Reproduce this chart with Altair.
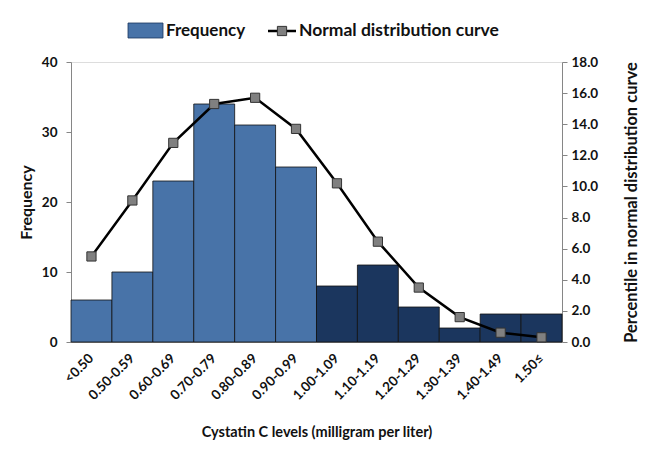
import altair as alt
import pandas as pd

categories = ["<0.50", "0.50-0.59", "0.60-0.69", "0.70-0.79", "0.80-0.89", "0.90-0.99",
              "1.00-1.09", "1.10-1.19", "1.20-1.29", "1.30-1.39", "1.40-1.49", "1.50≤"]
frequency = [6, 10, 23, 34, 31, 25, 8, 11, 5, 2, 4, 4]
normal_curve = [5.5, 9.1, 12.8, 15.3, 15.7, 13.7, 10.2, 6.45, 3.5, 1.6, 0.6, 0.3]
group = ["low"] * 6 + ["high"] * 6

df = pd.DataFrame({"cat": categories, "freq": frequency, "curve": normal_curve, "group": group})

FONT = "Lato"
LIGHT = "#4873A8"
DARK = "#1B365E"
AXIS_GRAY = "#868686"

x_enc = alt.X("cat:N", sort=categories, title="Cystatin C levels (milligram per liter)",
              scale=alt.Scale(paddingInner=0, paddingOuter=0),
              axis=alt.Axis(labelAngle=-45, labelAlign="right", labelBaseline="middle",
                            labelFont=FONT, labelFontSize=13.5, labelFontWeight="bold",
                            labelColor="#111", ticks=False, labelPadding=14,
                            domainColor=AXIS_GRAY, titleFont=FONT, titleFontSize=14.5,
                            titleFontWeight="bold", titlePadding=24, titleColor="#111"))

bars = alt.Chart(df).mark_bar(stroke="#111", strokeWidth=0.8).encode(
    x=x_enc,
    y=alt.Y("freq:Q", title="Frequency", scale=alt.Scale(domain=[0, 40]),
            axis=alt.Axis(values=[0, 10, 20, 30, 40], grid=False, orient="left",
                          domainColor=AXIS_GRAY, tickColor=AXIS_GRAY, tickSize=5,
                          labelFont=FONT, labelFontSize=13.5, labelFontWeight="bold",
                          labelColor="#111", labelPadding=9,
                          titleFont=FONT, titleFontSize=16, titleFontWeight="bold",
                          titleColor="#111", titlePadding=7)),
    color=alt.Color("group:N", scale=alt.Scale(domain=["low", "high"], range=[LIGHT, DARK]),
                    legend=None),
)

line = alt.Chart(df).mark_line(
    color="black", strokeWidth=2.5,
    point=alt.OverlayMarkDef(shape="square", filled=True, size=85, fill="#808080",
                             stroke="#333", strokeWidth=1, opacity=1),
).encode(
    x=alt.X("cat:N", sort=categories),
    y=alt.Y("curve:Q", title="Percentile in normal distribution curve",
            scale=alt.Scale(domain=[0, 18]),
            axis=alt.Axis(values=[0, 2, 4, 6, 8, 10, 12, 14, 16, 18], format=".1f", grid=False,
                          orient="right", domainColor=AXIS_GRAY, tickColor=AXIS_GRAY, tickSize=5,
                          labelFont=FONT, labelFontSize=13.5, labelFontWeight="bold",
                          labelColor="#111", labelPadding=4,
                          titleFont=FONT, titleFontSize=16.5, titleFontWeight="bold",
                          titleColor="#111", titleAngle=270, titleBaseline="bottom",
                          titlePadding=42)),
)

legend_df = pd.DataFrame({"a": [0]})
leg_rect = alt.Chart(legend_df).mark_rect(fill=LIGHT, stroke="#1B365E", strokeWidth=0.8).encode(
    x=alt.value(57), x2=alt.value(92), y=alt.value(-39), y2=alt.value(-24))
leg_text1 = alt.Chart(legend_df).mark_text(text="Frequency", font=FONT, fontSize=17,
                                           fontWeight="bold", align="left", baseline="middle",
                                           color="#111").encode(x=alt.value(95), y=alt.value(-31))
leg_line = alt.Chart(legend_df).mark_rule(color="black", strokeWidth=2.5).encode(
    x=alt.value(197), x2=alt.value(225), y=alt.value(-31))
leg_pt = alt.Chart(legend_df).mark_point(shape="square", filled=True, size=85, fill="#808080",
                                         stroke="#333", strokeWidth=1, opacity=1).encode(
    x=alt.value(211), y=alt.value(-31))
leg_text2 = alt.Chart(legend_df).mark_text(text="Normal distribution curve", font=FONT,
                                           fontSize=17.5, fontWeight="bold", align="left",
                                           baseline="middle", color="#111").encode(
    x=alt.value(228), y=alt.value(-31))

chart = alt.layer(bars, line, leg_rect, leg_text1, leg_line, leg_pt, leg_text2).resolve_scale(
    y="independent"
).properties(
    width=491, height=280,
    padding={"left": 63, "top": 54, "right": 92, "bottom": 100},
    autosize=alt.AutoSizeParams(type="none"),
).configure_view(stroke=AXIS_GRAY, strokeWidth=1).configure(background="white")

chart.save("out.html", embed_options={"renderer": "svg", "actions": False})
